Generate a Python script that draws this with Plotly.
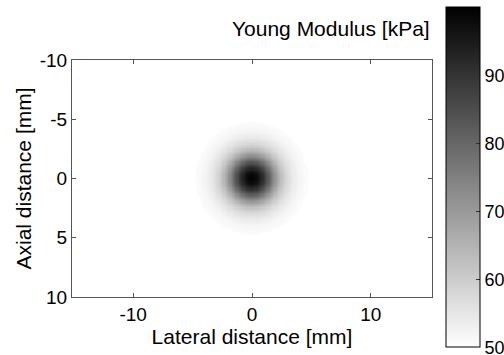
import numpy as np
import plotly.graph_objects as go

# Radial profile of the inclusion
radius_mm = [0.0, 0.5, 1.0, 1.5, 2.0, 2.5, 3.0, 3.5, 4.0, 4.5, 4.7, 4.8, 6.0]
modulus_kpa = [100, 97, 90, 80, 70, 62, 57, 54, 52, 51, 50.8, 50, 50]

x_ticks = [-10, 0, 10]
x_tick_labels = ["-10", "0", "10"]
y_ticks = [-10, -5, 0, 5, 10]
y_tick_labels = ["-10", "-5", "0", "5", "10"]
cbar_ticks = [50, 60, 70, 80, 90]

x = np.linspace(-15.15, 15.15, 304)
y = np.linspace(-10, 10, 201)
X, Y = np.meshgrid(x, y)
R = np.sqrt(X**2 + Y**2)
Z = np.interp(R, radius_mm, modulus_kpa)

FONT = "Liberation Sans, Arial, sans-serif"

W, H = 504, 355
L, T = 72, 59.5
PW, PH = 360, 237.5

fig = go.Figure(go.Heatmap(
    x=x, y=y, z=Z, zmin=50, zmax=100,
    colorscale=[[0, "#ffffff"], [1, "#000000"]],
    colorbar=dict(
        x=(445.7 - 72) / PW, xanchor="left", xpad=0, ypad=0,
        y=(297 - 177) / PH, yanchor="middle", len=341 / PH, lenmode="fraction",
        thickness=34, thicknessmode="pixels",
        outlinewidth=1, outlinecolor="#000",
        tickvals=cbar_ticks, ticks="inside", ticklen=4, tickcolor="#333",
        ticklabeloverflow="allow",
        tickfont=dict(family=FONT, size=18, color="#000"),
    ),
))

axis_common = dict(
    showline=True, linecolor="#555", linewidth=1, mirror="ticks",
    ticks="inside", ticklen=4, tickcolor="#555",
    showgrid=False, zeroline=False,
    tickfont=dict(family=FONT, size=19, color="#000"),
)

fig.update_layout(
    width=W, height=H,
    margin=dict(l=L, r=W - L - PW, t=T, b=H - T - PH, autoexpand=False),
    paper_bgcolor="white", plot_bgcolor="white",
    xaxis=dict(range=[-15.15, 15.15], tickvals=x_ticks, ticktext=x_tick_labels,
               title=dict(text="Lateral distance [mm]", standoff=3,
                          font=dict(family=FONT, size=21, color="#000")),
               **axis_common),
    yaxis=dict(range=[10, -10], tickvals=y_ticks, ticktext=y_tick_labels,
               title=dict(text="Axial distance [mm]", standoff=2,
                          font=dict(family=FONT, size=21, color="#000")),
               **axis_common),
    annotations=[dict(text="Young Modulus [kPa]", xref="paper", yref="paper",
                      x=1, y=1, xanchor="right", yanchor="middle", yshift=31.5,
                      showarrow=False,
                      font=dict(family=FONT, size=21, color="#000"))],
)

fig.write_html(
    "out.html",
    config={"displayModeBar": False},
    post_script="document.body.style.margin='0';document.body.style.overflow='hidden';",
)
